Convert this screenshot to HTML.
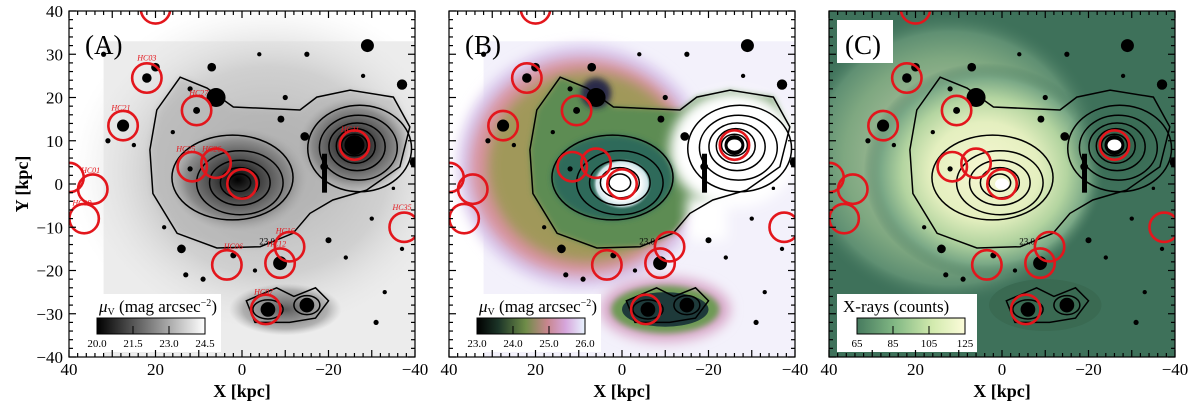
<!DOCTYPE html>
<html><head><meta charset="utf-8">
<style>
html,body{margin:0;padding:0;background:#fff;}
svg{display:block;font-family:"Liberation Serif",serif;}
</style></head>
<body>
<svg id="fig" width="1200" height="402" viewBox="0 0 1200 402" xmlns="http://www.w3.org/2000/svg">
<defs>
  <clipPath id="clipA"><rect x="69" y="11" width="346" height="346"/></clipPath>
  <clipPath id="clipB"><rect x="449" y="11" width="346" height="346"/></clipPath>
  <clipPath id="clipC"><rect x="829" y="11" width="346" height="346"/></clipPath>
  <filter id="blur6" x="-30%" y="-30%" width="160%" height="160%"><feGaussianBlur stdDeviation="6"/></filter>
  <filter id="blur3" x="-30%" y="-30%" width="160%" height="160%"><feGaussianBlur stdDeviation="3"/></filter>
  <radialGradient id="gA-halo"><stop offset="0" stop-color="#b4b4b4"/><stop offset="0.6" stop-color="#d0d0d0"/><stop offset="1" stop-color="#f2f2f2" stop-opacity="0"/></radialGradient>
  <radialGradient id="gA-core"><stop offset="0" stop-color="#000"/><stop offset="0.35" stop-color="#444"/><stop offset="0.75" stop-color="#8a8a8a"/><stop offset="1" stop-color="#a8a8a8" stop-opacity="0"/></radialGradient>
  <radialGradient id="gB-core"><stop offset="0" stop-color="#fff"/><stop offset="0.6" stop-color="#fff"/><stop offset="0.85" stop-color="#cfe4e8"/><stop offset="1" stop-color="#2f6a5a" stop-opacity="0"/></radialGradient>
  <radialGradient id="gC-halo"><stop offset="0" stop-color="#f6f7d2"/><stop offset="0.45" stop-color="#e4efbf"/><stop offset="0.68" stop-color="#b3d4a0"/><stop offset="0.86" stop-color="#7aa886"/><stop offset="1" stop-color="#3e715a" stop-opacity="0"/></radialGradient>
  <radialGradient id="gC-comp"><stop offset="0" stop-color="#2f5f48"/><stop offset="1" stop-color="#3e715a" stop-opacity="0"/></radialGradient>
  <linearGradient id="cbA"><stop offset="0" stop-color="#000"/><stop offset="1" stop-color="#fff"/></linearGradient>
  <linearGradient id="cbB"><stop offset="0" stop-color="#000"/><stop offset="0.2" stop-color="#1c3528"/><stop offset="0.45" stop-color="#6e8c48"/><stop offset="0.65" stop-color="#c8868e"/><stop offset="0.82" stop-color="#d6a6dc"/><stop offset="1" stop-color="#e8f4ff"/></linearGradient>
  <linearGradient id="cbC"><stop offset="0" stop-color="#467a5e"/><stop offset="0.35" stop-color="#82b884"/><stop offset="0.7" stop-color="#d2eaae"/><stop offset="1" stop-color="#fcfcda"/></linearGradient>
</defs>
<g id="panels"></g>
</svg>
<script>
// ---- data (kpc) ----
const circleX = [20, 22, 27.5, 10.5, 11.5, 6, 0, -26, -37.5, -11, -8.8, 3.5, -5.5, 40, 34.5, 36.5];
const circleY = [40.5, 24.5, 13.5, 17, 4, 4.8, 0, 9, -10, -14.5, -18.3, -18.7, -29, 1.5, -1.2, -8];
const blobX = [6, -29, -37, 20, 7, -15, -4, 32, 12, -14.5, -9, -20, -37, -19, 14, 13, -31, -24, -40, 31, -28, -35, 22, 27.5, 10.5, -8.8, 12, -6, -15, -26, 2, -3, 18, -33, 25, -10, 9, 16, -30];
const blobY = [20, 32, 23, 27, 27, 30, 30, 30, 22, 11, 15, -13, -15, 4, -15, -21, -32, -17, 5, 10, 25, -1, 24.5, 13.5, 17, -18.3, 3.5, -29, -28, 9, -16.5, -20, -10, -25, 9, 20, -22, 12, -8];
const blobR = [2.2, 1.5, 1.2, 1, 1, 0.6, 0.5, 0.6, 0.6, 1, 0.8, 0.7, 0.5, 0.9, 1, 0.6, 0.6, 0.5, 1.2, 0.6, 0.5, 0.4, 1.1, 1.4, 0.8, 1.6, 0.6, 1.7, 1.7, 2.3, 0.7, 0.5, 0.5, 0.5, 0.5, 0.6, 0.6, 0.5, 0.5];
const outerX = [14.3, 8.1, 2, -13.4, -17.3, -25, -35, -38.8, -36.5, -28.8, -21, -15.7, -11.8, -4.2, 5.8, 15, 20.6, 21.3, 19.7];
const outerY = [24.7, 22.2, 17.8, 17.1, 20.1, 21.7, 20.1, 13.2, 4, -1.4, -3.7, -6.8, -11.4, -14.5, -14.8, -11.4, -2.2, 7.9, 17.1];
const mainRx = [14, 10, 7, 4.5, 2.5];
const mainRy = [9.8, 7.4, 5.2, 3.5, 2];
const compRx = [12, 9, 6.5, 4.5, 3];
const compRy = [10, 7.5, 5.5, 4, 2.5];
const xTicks = [40, 20, 0, -20, -40];
const xTickLabels = ["40", "20", "0", "\u221220", "\u221240"];
const yTicks = [40, 30, 20, 10, 0, -10, -20, -30, -40];
const yTickLabels = ["40", "30", "20", "10", "0", "\u221210", "\u221220", "\u221230", "\u221240"];
const cbLabelsA = ["20.0", "21.5", "23.0", "24.5"];
const cbLabelsB = ["23.0", "24.0", "25.0", "26.0"];
const cbLabelsC = ["65", "85", "105", "125"];
const panelNames = ["A", "B", "C"];

const NS = "http://www.w3.org/2000/svg";
const S = 346 / 80;
function mk(tag, attrs, parent) {
  const e = document.createElementNS(NS, tag);
  for (const k in attrs) e.setAttribute(k, attrs[k]);
  parent.appendChild(e);
  return e;
}
const root = document.getElementById("panels");

panelNames.forEach(function (P, pi) {
  const L = 69 + pi * 380, T = 11, W = 346;
  const px = function (x) { return L + W / 2 - x * S; };
  const py = function (y) { return T + W / 2 - y * S; };
  const g = mk("g", {}, root);
  
  
  const img = mk("g", { "clip-path": "url(#clip" + P + ")" }, g);
  
  

  const outerD = outerX.map(function (x, i) { return (i ? "L" : "M") + px(x).toFixed(1) + "," + py(outerY[i]).toFixed(1); }).join("") + "Z";

  if (P === "A") {
    mk("rect", { x: L, y: T, width: W, height: W, fill: "#fff" }, img);
    mk("rect", { x: px(32), y: py(33), width: px(-40) - px(32), height: py(-40) - py(33), fill: "#ececec" }, img);
    mk("ellipse", { cx: px(-6), cy: py(3), rx: 46 * S, ry: 40 * S, fill: "url(#gA-halo)" }, img);
    mk("path", { d: outerD, fill: "#a8a8a8", opacity: 0.45, filter: "url(#blur3)" }, img);
    mk("ellipse", { cx: px(-10), cy: py(-29), rx: 13 * S, ry: 6 * S, fill: "url(#gA-core)", opacity: 0.6 }, img);
    mk("ellipse", { cx: px(1), cy: py(1), rx: 16 * S, ry: 12 * S, fill: "url(#gA-core)" }, img);
    mk("ellipse", { cx: px(-26), cy: py(9), rx: 13 * S, ry: 11 * S, fill: "url(#gA-core)" }, img);
  } else if (P === "B") {
    mk("rect", { x: L, y: T, width: W, height: W, fill: "#fff" }, img);
    const hb = mk("g", { "clip-path": "url(#clipBdata)" }, img);
    mk("rect", { x: px(32), y: py(33), width: px(-40) - px(32), height: py(-40) - py(33), fill: "#f3f1fb" }, img);
    mk("ellipse", { cx: px(9), cy: py(4), rx: 29 * S, ry: 28 * S, fill: "#d8c6ec", filter: "url(#blur6)" }, img);
    mk("ellipse", { cx: px(9), cy: py(4), rx: 26 * S, ry: 25 * S, fill: "#d8929e", filter: "url(#blur6)" }, img);
    mk("ellipse", { cx: px(8), cy: py(4), rx: 23 * S, ry: 22 * S, fill: "#a0985a", filter: "url(#blur6)" }, img);
    mk("path", { d: outerD, fill: "#5d8c52", filter: "url(#blur3)" }, img);
    mk("ellipse", { cx: px(-26), cy: py(8), rx: 15 * S, ry: 13.5 * S, fill: "#fff", filter: "url(#blur6)" }, img);
    mk("rect", { x: px(-15), y: py(-3), width: 40, height: 10 * S, fill: "#fff", filter: "url(#blur6)" }, img);
    mk("ellipse", { cx: px(2.2), cy: py(1.5), rx: 14 * S, ry: 9.8 * S, fill: "#2f6a5a", filter: "url(#blur3)" }, img);
    mk("ellipse", { cx: px(6), cy: py(21), rx: 3.5 * S, ry: 3.5 * S, fill: "#2a2a4a", filter: "url(#blur3)" }, img);
    mk("ellipse", { cx: px(0), cy: py(0), rx: 7 * S, ry: 6 * S, fill: "url(#gB-core)" }, img);
    mk("ellipse", { cx: px(-10), cy: py(-29), rx: 15 * S, ry: 7.5 * S, fill: "#d8a6c8", filter: "url(#blur6)" }, img);
    mk("ellipse", { cx: px(-10), cy: py(-29), rx: 12.5 * S, ry: 5.5 * S, fill: "#6e9a55", filter: "url(#blur3)" }, img);
    mk("ellipse", { cx: px(-10), cy: py(-29), rx: 10 * S, ry: 4 * S, fill: "#1e3a3a" }, img);
  } else {
    mk("rect", { x: L, y: T, width: W, height: W, fill: "#3e715a" }, img);
    mk("ellipse", { cx: px(12), cy: py(6), rx: 36 * S, ry: 34 * S, fill: "url(#gC-halo)", opacity: 0.55 }, img);
    mk("ellipse", { cx: px(4), cy: py(3), rx: 28 * S, ry: 25 * S, fill: "url(#gC-halo)" }, img);
    mk("ellipse", { cx: px(-27), cy: py(9), rx: 13 * S, ry: 11 * S, fill: "url(#gC-comp)" }, img);
    mk("ellipse", { cx: px(-10), cy: py(-28), rx: 13 * S, ry: 6 * S, fill: "#3a6a52" }, img);
  }

  const cg = mk("g", { fill: "none", stroke: "#000", "stroke-width": 1.5 }, img);
  
  
  mk("path", { d: outerD }, cg);
  mainRx.forEach(function (r, i) {
    const e = mk("ellipse", { cx: px(i ? 0.5 : 2.2), cy: py(i ? 0.3 : 1.5), rx: r * S, ry: mainRy[i] * S }, cg);
    
    
  });
  compRx.forEach(function (r, i) {
    const e = mk("ellipse", { cx: px(-26 - (4 - i) * 0.3), cy: py(9 - (4 - i) * 0.2), rx: r * S, ry: compRy[i] * S }, cg);
    
    
  });
  mk("path", { d: "M" + px(-1) + "," + py(-27) + " L" + px(-8) + "," + py(-24) + " L" + px(-12) + "," + py(-26) + " L" + px(-17) + "," + py(-24) + " L" + px(-20) + "," + py(-27) + " L" + px(-17) + "," + py(-31) + " L" + px(-11) + "," + py(-32) + " L" + px(-3) + "," + py(-32) + "Z" }, cg);
  mk("ellipse", { cx: px(-6), cy: py(-29), rx: 3.5 * S, ry: 2.2 * S }, cg);
  mk("ellipse", { cx: px(-15), cy: py(-28), rx: 3 * S, ry: 2.2 * S }, cg);
  const lbl = mk("text", { x: px(-4), y: py(-14), "font-size": 9, fill: "#000" }, img);
  lbl.textContent = "23.0";

  blobX.forEach(function (x, i) {
    const b = mk("circle", { cx: px(x), cy: py(blobY[i]), r: blobR[i] * S, fill: "#000" }, img);
    
    
  });
  mk("rect", { x: px(-18.5), y: py(7), width: 5, height: 9 * S, fill: "#000" }, img);
  if (P !== "A") {
    mk("ellipse", { cx: px(0), cy: py(0), rx: 1.6 * S, ry: 1.3 * S, fill: "#fff" }, img);
    mk("ellipse", { cx: px(-26), cy: py(9), rx: 1.6 * S, ry: 1.3 * S, fill: "#fff" }, img);
  }

  circleX.forEach(function (x, i) {
    const c = mk("circle", { cx: px(x), cy: py(circleY[i]), r: 3.4 * S, fill: "none", stroke: "#e3161c", "stroke-width": 2.6 }, img);
    
    
  });
  if (P === "A") {
    const names = ["HC03", "HC21", "HC27", "HC25", "HC26", "HC01", "HC19", "HC35", "HC16", "HC12", "HC06", "HC07", "HC11"];
    const nx = [22, 28, 10, 13, 7, 35, 37, -37, -10, -8, 2, -5, -25];
    const ny = [28.5, 17, 20.5, 7.5, 7.5, 2.5, -5, -6, -11.5, -14.5, -15, -25.5, 12];
    names.forEach(function (n, i) {
      const t = mk("text", { x: px(nx[i]), y: py(ny[i]), "font-size": 8, "font-style": "italic", fill: "#e3161c", "text-anchor": "middle" }, img);
      t.textContent = n;
      
      
    });
  }

  if (P === "C") mk("rect", { x: L + 8, y: T + 9, width: 56, height: 43, fill: "#fff" }, g);
  const pl = mk("text", { x: L + 16, y: T + 43, "font-size": 27, fill: "#000" }, g);
  pl.textContent = "(" + P + ")";
  
  

  const cb = mk("g", {}, g);
  
  
  mk("rect", { x: L + (P === "C" ? 8 : 12), y: 294, width: 140, height: 58, fill: "#fff" }, cb);
  mk("rect", { x: L + 28, y: 318, width: 108, height: 16, fill: "url(#cb" + P + ")", stroke: "#000", "stroke-width": 1 }, cb);
  const labs = P === "A" ? cbLabelsA : (P === "B" ? cbLabelsB : cbLabelsC);
  labs.forEach(function (t, i) {
    const xx = L + 28 + i * 36;
    if (i > 0 && i < 3) mk("line", { x1: xx, y1: 326, x2: xx, y2: 334, stroke: "#000" }, cb);
    const tx = mk("text", { x: xx, y: 347, "font-size": 11, "text-anchor": "middle" }, cb);
    tx.textContent = t;
  });
  const ct = mk("text", { x: L + (P === "C" ? 14 : 30), y: 312, "font-size": 17 }, cb);
  if (P === "C") ct.textContent = "X-rays (counts)";
  else ct.innerHTML = '<tspan font-style="italic">\u03bc</tspan><tspan font-size="10" dy="3">V</tspan><tspan dy="-3"> (mag arcsec</tspan><tspan font-size="10" dy="-6">\u22122</tspan><tspan dy="6">)</tspan>';

  const ax = mk("g", { stroke: "#000", "stroke-width": 1.2, fill: "none" }, g);
  
  
  mk("rect", { x: L, y: T, width: W, height: W }, ax);
  for (let v = -40; v <= 40; v += 2) {
    const major = v % 10 === 0;
    const len = major ? 7 : 4;
    mk("line", { x1: px(v), y1: T + W, x2: px(v), y2: T + W - len }, ax);
    mk("line", { x1: px(v), y1: T, x2: px(v), y2: T + len }, ax);
    mk("line", { x1: L, y1: py(v), x2: L + len, y2: py(v) }, ax);
    mk("line", { x1: L + W, y1: py(v), x2: L + W - len, y2: py(v) }, ax);
  }
  xTicks.forEach(function (v, i) {
    const t = mk("text", { x: px(v), y: 375, "font-size": 17, "text-anchor": "middle" }, g);
    t.textContent = xTickLabels[i];
    
    
  });
  const xt = mk("text", { x: L + W / 2, y: 397, "font-size": 18, "font-weight": "bold", "text-anchor": "middle" }, g);
  xt.textContent = "X [kpc]";
  
  
  if (P === "A") {
    yTicks.forEach(function (v, i) {
      const t = mk("text", { x: 63, y: py(v) + 6, "font-size": 17, "text-anchor": "end" }, g);
      t.textContent = yTickLabels[i];
      
      
    });
    const yt = mk("text", { x: 0, y: 0, "font-size": 18, "font-weight": "bold", "text-anchor": "middle", transform: "translate(28,184) rotate(-90)" }, g);
    yt.textContent = "Y [kpc]";
    
    
  }
});
</script>
</body></html>
